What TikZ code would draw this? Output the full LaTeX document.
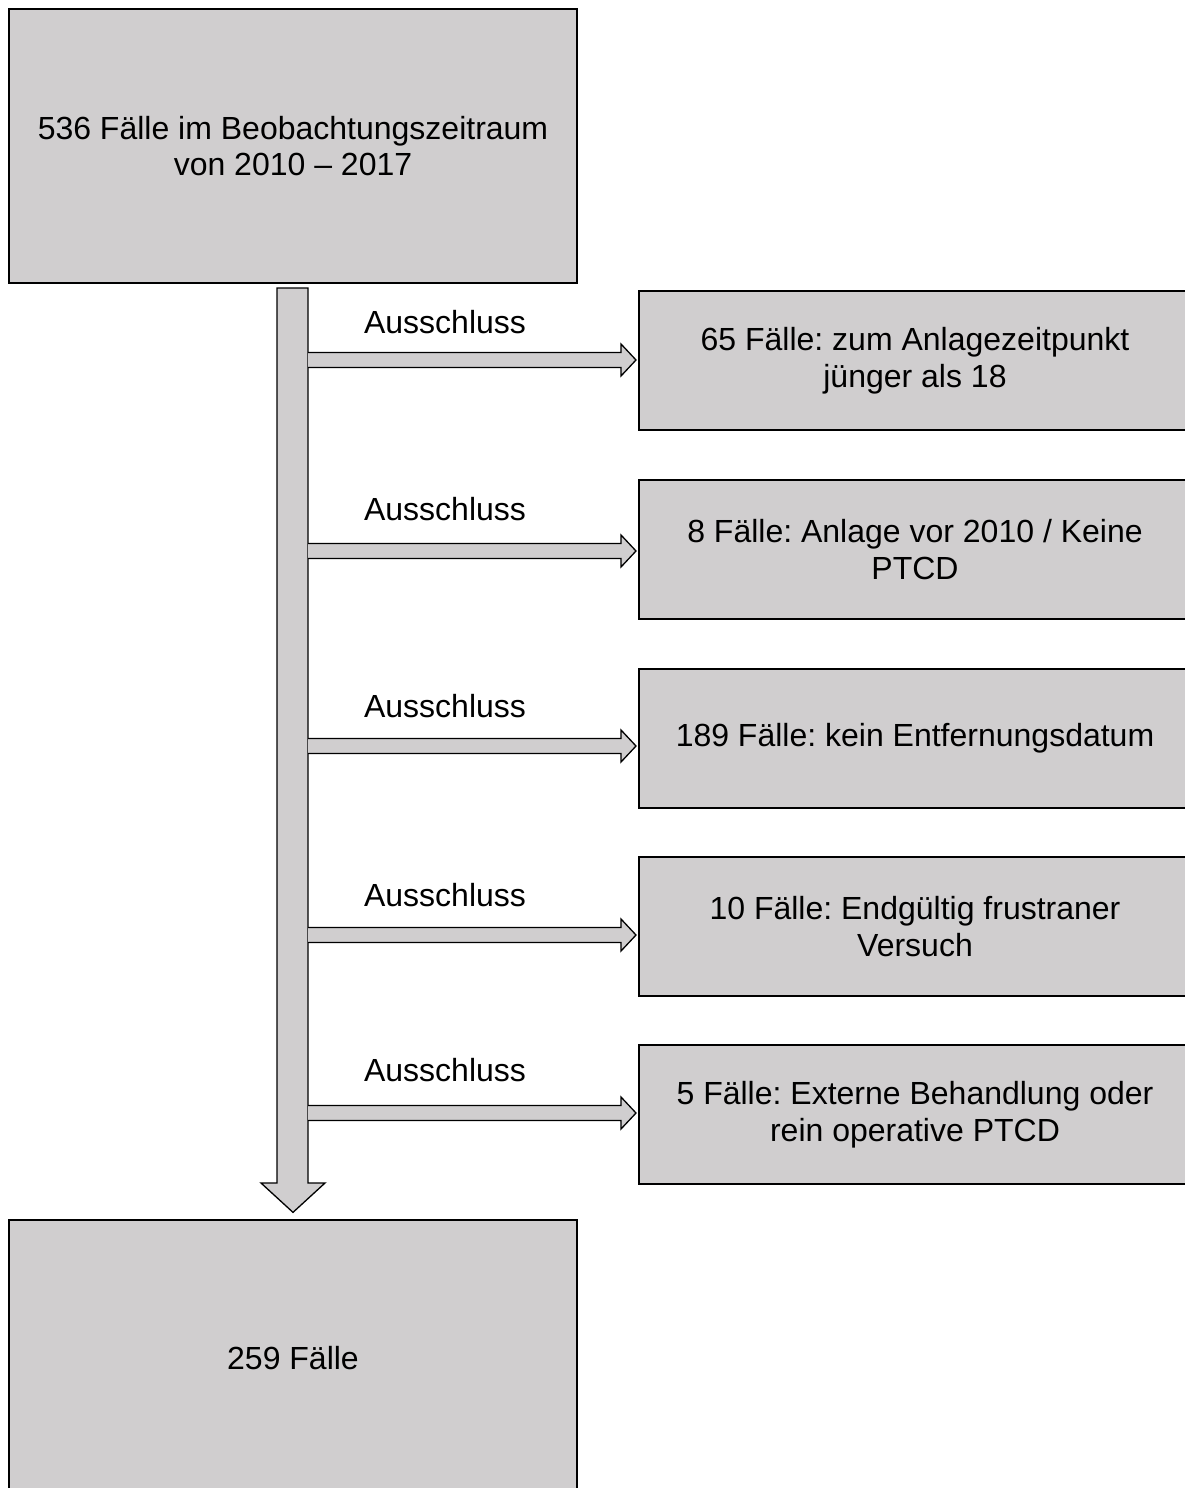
\documentclass[tikz,border=0pt]{standalone}
\usepackage{fontspec}
\setmainfont{Liberation Sans}
\frenchspacing
\definecolor{boxgray}{RGB}{208,206,207}
\tikzset{
  box/.style={draw=black, line width=1.3pt, fill=boxgray, align=center, inner sep=0pt,
    font=\fontsize{32}{36.5}\selectfont},
  lbl/.style={inner sep=0pt, font=\fontsize{32}{36.5}\selectfont},
  blockarrow/.style={draw=black, line width=1.3pt, fill=boxgray, line join=miter}
}
\newcommand\xarrow[1]{%
  \draw[blockarrow] (308,{#1-7.5}) -- (621,{#1-7.5}) -- (621,{#1-16}) -- (636,#1)
    -- (621,{#1+16}) -- (621,{#1+7.5}) -- (308,{#1+7.5});}
\begin{document}
\begin{tikzpicture}[x=1pt,y=-1pt]
\useasboundingbox (0,0) rectangle (1185,1488);
\clip (0,0) rectangle (1185,1488);
\fill[white] (0,0) rectangle (1185,1488);
% main boxes
\node[box, minimum width=568pt, minimum height=274pt] (top) at (293,146)
  {536 Fälle im Beobachtungszeitraum\\von 2010 – 2017};
\node[box, minimum width=568pt, minimum height=276pt] (bot) at (293,1358) {259 Fälle};
% exclusion boxes
\node[box, minimum width=552pt, minimum height=139pt] (r1) at (915,360.5)
  {65 Fälle: zum Anlagezeitpunkt\\jünger als 18};
\node[box, minimum width=552pt, minimum height=139pt] (r2) at (915,549.5)
  {8 Fälle: Anlage vor 2010 / Keine\\PTCD};
\node[box, minimum width=552pt, minimum height=139pt] (r3) at (915,738.5)
  {189 Fälle: kein Entfernungsdatum};
\node[box, minimum width=552pt, minimum height=139pt] (r4) at (915,926.5)
  {10 Fälle: Endgültig frustraner\\Versuch};
\node[box, minimum width=552pt, minimum height=139pt] (r5) at (915,1114.5)
  {5 Fälle: Externe Behandlung oder\\rein operative PTCD};
% vertical block arrow from top to bot
\coordinate (vstart) at ([yshift=-5pt]top.south);
\coordinate (vtip) at ([yshift=7pt]bot.north);
\draw[blockarrow] (277,288) -- (277,1183) -- (261,1183) -- (vtip) -- (325,1183)
  -- (308,1183) -- (308,288) -- cycle;
% horizontal block arrows
\xarrow{360}
\xarrow{551}
\xarrow{746}
\xarrow{935}
\xarrow{1113}
% labels
\node[lbl] (l1) at (445,322) {Ausschluss};
\node[lbl] (l2) at (445,509) {Ausschluss};
\node[lbl] (l3) at (445,706) {Ausschluss};
\node[lbl] (l4) at (445,895) {Ausschluss};
\node[lbl] (l5) at (445,1070) {Ausschluss};
\end{tikzpicture}
\end{document}
